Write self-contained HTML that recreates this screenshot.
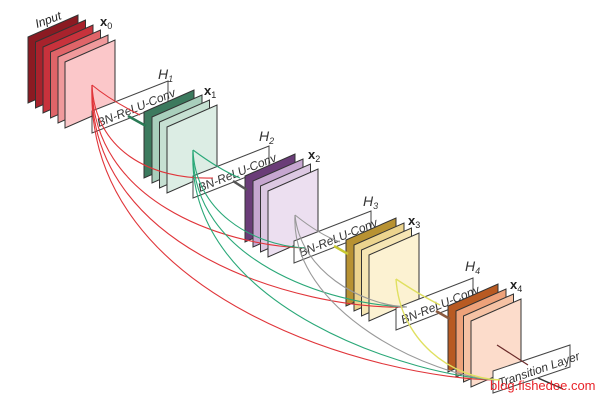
<!DOCTYPE html>
<html><head><meta charset="utf-8"><style>
html,body{margin:0;padding:0;background:#fff;}
svg{display:block;}
text{font-family:"Liberation Sans",sans-serif;}
</style></head><body>
<svg width="600" height="402" viewBox="0 0 600 402" xmlns="http://www.w3.org/2000/svg">
<defs>
<g id="sheet"><path d="M0 0 L50 -22 L50 44 L0 66 Z" stroke="#333" stroke-width="1"/></g>
</defs>
<g>
<use href="#sheet" x="28" y="37" fill="#8b1a22"/>
<use href="#sheet" x="35.5" y="42" fill="#a8222c"/>
<use href="#sheet" x="43" y="47" fill="#c8323c"/>
<use href="#sheet" x="50.5" y="52" fill="#e06468"/>
<use href="#sheet" x="58" y="57" fill="#f09a9c"/>
<use href="#sheet" x="65" y="62" fill="#fbc7c9"/>
</g>
<path d="M92 111 L168 81 L168 103 L92 133 Z" fill="#fff" stroke="#444"/>
<text font-size="12" font-style="italic" fill="#333" transform="translate(99,127) rotate(-22)">BN-ReLU-Conv</text>
<g>
<use href="#sheet" x="144" y="112" fill="#3c7a5e"/>
<use href="#sheet" x="152" y="117" fill="#a8cfbc"/>
<use href="#sheet" x="159.5" y="122" fill="#c6e0d2"/>
<use href="#sheet" x="167" y="127" fill="#dcede4"/>
</g>
<path d="M193 176 L269 146 L269 168 L193 198 Z" fill="#fff" stroke="#444"/>
<text font-size="12" font-style="italic" fill="#333" transform="translate(200,192) rotate(-22)">BN-ReLU-Conv</text>
<g>
<use href="#sheet" x="245" y="176" fill="#6a3c78"/>
<use href="#sheet" x="253" y="181" fill="#c6a6d0"/>
<use href="#sheet" x="260.5" y="186" fill="#dcc8e2"/>
<use href="#sheet" x="268" y="191" fill="#ecdff0"/>
</g>
<path d="M294 241 L371 211 L371 233 L294 263 Z" fill="#fff" stroke="#444"/>
<text font-size="12" font-style="italic" fill="#333" transform="translate(301,257) rotate(-22)">BN-ReLU-Conv</text>
<g>
<use href="#sheet" x="346" y="240" fill="#b89232"/>
<use href="#sheet" x="354" y="245" fill="#ecd48e"/>
<use href="#sheet" x="361.5" y="250" fill="#f6e6b4"/>
<use href="#sheet" x="369" y="255" fill="#fcf2d2"/>
</g>
<path d="M396 308 L473 278 L473 300 L396 330 Z" fill="#fff" stroke="#444"/>
<text font-size="12" font-style="italic" fill="#333" transform="translate(403,324) rotate(-22)">BN-ReLU-Conv</text>
<g>
<use href="#sheet" x="448" y="306" fill="#b85a22"/>
<use href="#sheet" x="456" y="311" fill="#eea27a"/>
<use href="#sheet" x="463.5" y="316" fill="#f6c2a4"/>
<use href="#sheet" x="471" y="321" fill="#fcdccb"/>
</g>
<path d="M493 371 L570 345 L570 367 L493 393 Z" fill="#fff" stroke="#444"/>
<text font-size="12" font-style="italic" fill="#333" transform="translate(500,387) rotate(-19)">Transition Layer</text>

<g fill="none" stroke-width="1.1">
<g stroke="#e0353a">
<path d="M92 85 Q110 100 140 115"/>
<path d="M92 85 C95 150 150 180 213 178"/>
<path d="M92 85 C92 200 220 245 305 248"/>
<path d="M92 85 C88 250 300 310 407 307"/>
<path d="M92 85 C84 300 380 380 500 380"/>
</g>
<g stroke="#2aa878">
<path d="M193 150 Q220 170 240 178"/>
<path d="M193 150 C195 210 250 245 305 248"/>
<path d="M193 150 C190 260 330 305 407 307"/>
<path d="M193 150 C185 310 420 378 500 380"/>
</g>
<g stroke="#999">
<path d="M295 215 Q320 235 340 242"/>
<path d="M295 215 C300 270 360 305 407 307"/>
<path d="M295 215 C290 310 430 378 500 380"/>
</g>
<g stroke="#e0e060" stroke-width="1.4">
<path d="M396 279 Q420 295 440 305"/>
<path d="M396 279 C400 340 450 378 500 380"/>
</g>
</g>
<g stroke-width="2.5">
<line x1="128" y1="116" x2="146" y2="126" stroke="#2a7a55"/>
<line x1="233" y1="181" x2="247" y2="190" stroke="#555"/>
<line x1="334" y1="246" x2="348" y2="254" stroke="#c8c832"/>
<line x1="436" y1="311" x2="450" y2="319" stroke="#8a5a40"/>
</g>
<line x1="497" y1="345" x2="528" y2="365" stroke="#6a2a2a" stroke-width="1.2"/>
<line x1="538" y1="378" x2="563" y2="389" stroke="#333" stroke-width="1.5"/>

<text font-size="12" font-style="italic" fill="#222" transform="translate(37,28) rotate(-20)">Input</text>
<text x="100" y="26" font-size="13" font-weight="bold" font-family="Liberation Serif" fill="#222">x<tspan font-size="9" font-weight="normal" dy="3">0</tspan></text>
<text x="158" y="79" font-size="14" font-style="italic" font-family="Liberation Serif" fill="#333">H<tspan font-size="9" dy="3">1</tspan></text>
<text x="204" y="95" font-size="13" font-weight="bold" font-family="Liberation Serif" fill="#222">x<tspan font-size="9" font-weight="normal" dy="3">1</tspan></text>
<text x="259" y="141" font-size="14" font-style="italic" font-family="Liberation Serif" fill="#333">H<tspan font-size="9" dy="3">2</tspan></text>
<text x="308" y="159" font-size="13" font-weight="bold" font-family="Liberation Serif" fill="#222">x<tspan font-size="9" font-weight="normal" dy="3">2</tspan></text>
<text x="363" y="206" font-size="14" font-style="italic" font-family="Liberation Serif" fill="#333">H<tspan font-size="9" dy="3">3</tspan></text>
<text x="408" y="225" font-size="13" font-weight="bold" font-family="Liberation Serif" fill="#222">x<tspan font-size="9" font-weight="normal" dy="3">3</tspan></text>
<text x="465" y="271" font-size="14" font-style="italic" font-family="Liberation Serif" fill="#333">H<tspan font-size="9" dy="3">4</tspan></text>
<text x="510" y="289" font-size="13" font-weight="bold" font-family="Liberation Serif" fill="#222">x<tspan font-size="9" font-weight="normal" dy="3">4</tspan></text>
<text x="490" y="390" font-size="13" fill="#e8242a">blog.fishedee.com</text>
</svg>
</body></html>
